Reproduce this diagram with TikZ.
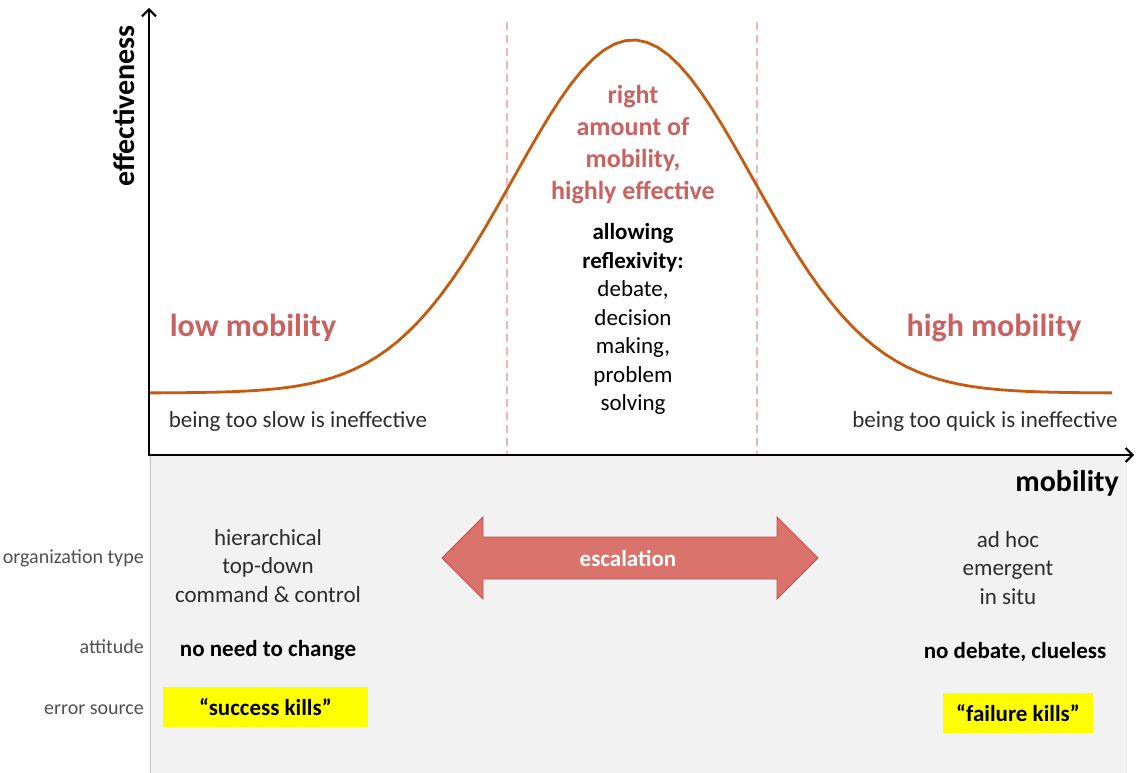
\documentclass[tikz,border=0pt]{standalone}
\usepackage{fontspec}
\setmainfont{Carlito}
\usetikzlibrary{arrows.meta}
\definecolor{curveorange}{RGB}{197,90,17}
\definecolor{mobred}{RGB}{200,98,96}
\definecolor{escfill}{RGB}{217,115,108}
\definecolor{escdraw}{RGB}{190,82,78}
\definecolor{guide}{RGB}{242,180,180}
\definecolor{panel}{RGB}{242,242,242}
\definecolor{bodygray}{RGB}{45,45,45}
\definecolor{sidegray}{RGB}{80,80,80}
\definecolor{hiyellow}{RGB}{255,255,0}

\begin{document}
\begin{tikzpicture}[x=1pt,y=-1pt,
    txt/.style={text=bodygray, align=center, inner sep=0,
      font={\fontsize{23}{28.5}\selectfont}},
    boldtxt/.style={txt, text=black, font={\fontsize{23}{27}\selectfont\bfseries}},
    mobtxt/.style={text=mobred, align=center, inner sep=0,
      font={\fontsize{26}{32}\selectfont\bfseries}},
    side/.style={text=sidegray, anchor=east, inner sep=0,
      font={\fontsize{20}{22}\selectfont}},
    hl/.style={boldtxt, fill=hiyellow, minimum width=205pt, minimum height=40pt},
    axis/.style={line width=2pt, -{Straight Barb[length=7pt,width=14pt,line width=2pt]}},
    guideline/.style={guide, line width=1.5pt, dash pattern=on 8pt off 5pt}]
  \useasboundingbox (0,0) rectangle (1136,773);
  \fill[panel] (149,456) rectangle (1127,773);
  \draw[gray!45] (150,456) -- (150,773);
  \draw[guideline] (507,22) -- (507,455);
  \draw[guideline] (757,22) -- (757,455);
  \draw[curveorange, line width=2.8pt, line join=round]
    plot[domain=149:1112, samples=90] (\x, {393-353*exp(-((\x-633)/120)^2/2)});
  \draw[axis] (149,456) -- (149,8);
  \draw[axis] (148,455) -- (1134,455);
  \node[rotate=90, inner sep=0, font={\fontsize{30}{30}\selectfont\bfseries}]
    (Effectiveness) at (124,106) {effectiveness};
  \node[anchor=east, inner sep=0, font={\fontsize{30}{30}\selectfont\bfseries}]
    (Mobility) at (1119,483) {mobility};
  \node[mobtxt, font={\fontsize{32}{32}\selectfont\bfseries}] (Low) at (253,328) {low mobility};
  \node[mobtxt, font={\fontsize{32}{32}\selectfont\bfseries}] (High) at (994,328) {high mobility};
  \node[txt] (Slow) at (298,421) {being too slow is ineffective};
  \node[txt] (Quick) at (985,421) {being too quick is ineffective};
  \node[mobtxt] (Right) at (633,145) {right\\amount of\\mobility,\\highly effective};
  \node[txt, text=black] (Reflex) at (633,319)
    {\textbf{allowing}\\\textbf{reflexivity:}\\debate,\\decision\\making,\\problem\\solving};
  \node[side] (OrgType) at (144,558) {organization type};
  \node[side] (Attitude) at (144,647) {attitude};
  \node[side] (ErrSource) at (144,710) {error source};
  \node[txt] (Hier) at (268,566) {hierarchical\\top-down\\command \& control};
  \node[txt] (AdHoc) at (1008,568) {ad hoc\\emergent\\in situ};
  \node[boldtxt] (NoNeed) at (268,650) {no need to change};
  \node[boldtxt] (NoDebate) at (1015,652) {no debate, clueless};
  \node[hl] (Success) at (265.5,707) {“success kills”};
  \node[hl, minimum width=150pt] (Failure) at (1018,713) {“failure kills”};
  \filldraw[fill=escfill, draw=escdraw, line width=0.8pt]
    (442,558) -- (483,517) -- (483,537) -- (777,537) -- (777,517) -- (818,558)
    -- (777,599) -- (777,579) -- (483,579) -- (483,599) -- cycle;
  \node[boldtxt, text=white] (Escalation) at (628,558) {escalation};
\end{tikzpicture}
\end{document}
